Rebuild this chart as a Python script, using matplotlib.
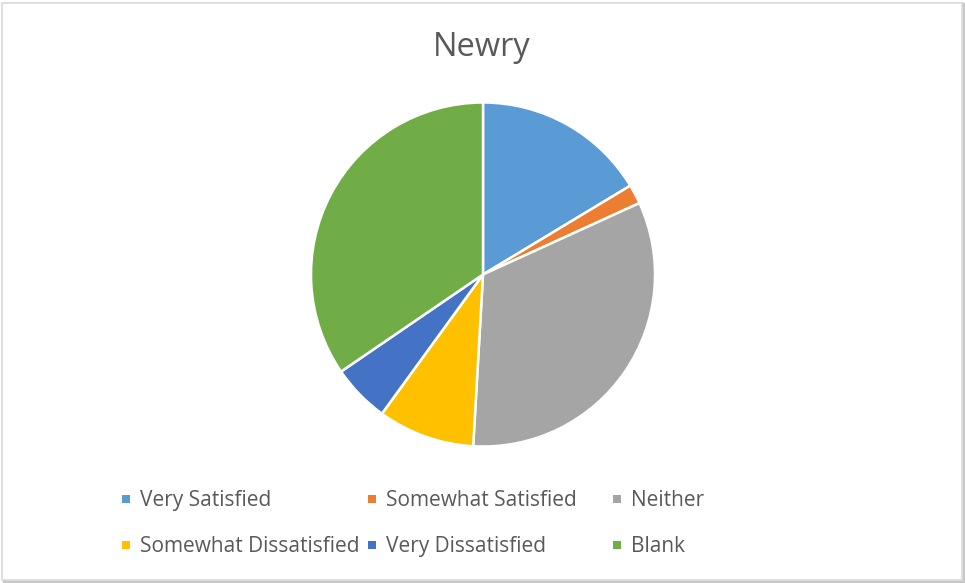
import matplotlib.pyplot as plt
from matplotlib.patches import Rectangle

categories = ['Very Satisfied', 'Somewhat Satisfied', 'Neither',
              'Somewhat Dissatisfied', 'Very Dissatisfied', 'Blank']
counts = [9, 1, 18, 5, 3, 19]
colors = ['#5B9BD5', '#ED7D31', '#A5A5A5', '#FFC000', '#4472C4', '#70AD47']

W, H = 965, 583
fig = plt.figure(figsize=(W / 100, H / 100), dpi=100)
fig.patch.set_facecolor('white')

# chart frame with a light shadow (kept behind the pie)
fig.add_artist(Rectangle((4 / W, 1 - 582 / H), 960 / W, 578 / H,
                         transform=fig.transFigure, fill=False,
                         edgecolor='#C8C8C8', linewidth=2.5, zorder=-2))
fig.add_artist(Rectangle((2 / W, 1 - 580 / H), 960 / W, 577 / H,
                         transform=fig.transFigure, facecolor='white',
                         edgecolor='#D9D9D9', linewidth=1.2, zorder=-1))

cx, cy, r = 483, 274.5, 172
ax = fig.add_axes([(cx - r) / W, (H - cy - r) / H, 2 * r / W, 2 * r / H])
ax.pie(counts, colors=colors, startangle=90, counterclock=False, radius=1,
       wedgeprops=dict(edgecolor='white', linewidth=1.8))
ax.set_xlim(-1, 1)
ax.set_ylim(-1, 1)
ax.set_aspect('equal')
ax.axis('off')

text_color = '#595959'
fig.text(482 / W, 1 - 48 / H, 'Newry', ha='center', va='center',
         fontsize=23.5, color=text_color, family='Open Sans')

# legend laid out on a fixed 3-column grid
col_x = [126, 372, 617]
row_y = [499, 545]
for i, (name, c) in enumerate(zip(categories, colors)):
    x = col_x[i % 3]
    y = row_y[i // 3]
    fig.add_artist(Rectangle(((x - 4) / W, 1 - (y + 4) / H), 8 / W, 8 / H,
                             transform=fig.transFigure, facecolor=c,
                             edgecolor='none'))
    fig.text((x + 14) / W, 1 - (y + 7) / H, name, ha='left', va='baseline',
             fontsize=15, color=text_color, family='Open Sans')

fig.savefig('out.png', dpi=100, facecolor='white')
